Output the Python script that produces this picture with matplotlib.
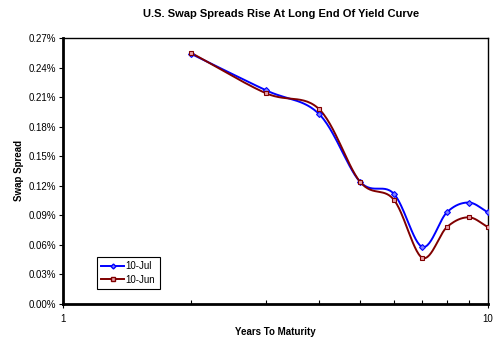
import numpy as np
import matplotlib
matplotlib.use("Agg")
import matplotlib.pyplot as plt
from matplotlib.ticker import FixedLocator, FuncFormatter, NullFormatter

plt.rcParams['font.family'] = ['Liberation Sans', 'DejaVu Sans']

# data (swap spread in %)
years = [2, 3, 4, 5, 6, 7, 8, 9, 10]
jul_10 = [0.254, 0.217, 0.193, 0.124, 0.112, 0.058, 0.093, 0.103, 0.093]
jun_10 = [0.255, 0.214, 0.198, 0.124, 0.106, 0.047, 0.078, 0.088, 0.078]


def smooth(x, y, n=30):
    # catmull-rom through the points, done in log-x space like excel smoothing
    lx = np.log10(np.asarray(x, float))
    y = np.asarray(y, float)
    px = np.concatenate([[2 * lx[0] - lx[1]], lx, [2 * lx[-1] - lx[-2]]])
    py = np.concatenate([[2 * y[0] - y[1]], y, [2 * y[-1] - y[-2]]])
    outx, outy = [], []
    t = np.linspace(0, 1, n)
    for i in range(1, len(px) - 2):
        for arr, out in ((px, outx), (py, outy)):
            p0, p1, p2, p3 = arr[i - 1], arr[i], arr[i + 1], arr[i + 2]
            out.extend(0.5 * (2 * p1 + (-p0 + p2) * t
                              + (2 * p0 - 5 * p1 + 4 * p2 - p3) * t ** 2
                              + (-p0 + 3 * p1 - 3 * p2 + p3) * t ** 3))
    return 10 ** np.array(outx), np.array(outy)


fig = plt.figure(figsize=(4.93, 3.41), dpi=100)
ax = fig.add_axes([0.1278, 0.1085, 0.8621, 0.7801])

sx, sy = smooth(years, jul_10)
ax.plot(sx, sy, color='#0000ff', lw=1.4, zorder=3)
ax.plot(years, jul_10, ls='none', marker='D', ms=3, mfc='#8080ff', mec='#0000ff', mew=0.8, zorder=4)
sx, sy = smooth(years, jun_10)
ax.plot(sx, sy, color='#800000', lw=1.4, zorder=3)
ax.plot(years, jun_10, ls='none', marker='s', ms=3.5, mfc='#e8a0a8', mec='#800000', mew=0.8, zorder=4)

# legend proxies
ax.plot([], [], color='#0000ff', lw=1.4, marker='D', ms=2.5, mfc='#8080ff', mec='#0000ff', label='10-Jul')
ax.plot([], [], color='#800000', lw=1.4, marker='s', ms=3, mfc='#e8a0a8', mec='#800000', label='10-Jun')

ax.set_xscale('log')
ax.set_xlim(1, 10)
ax.set_ylim(0, 0.27)
ax.yaxis.set_major_locator(FixedLocator(np.arange(0, 0.2701, 0.03)))
ax.yaxis.set_major_formatter(FuncFormatter(lambda v, p: f'{v:.2f}%'))
ax.xaxis.set_major_locator(FixedLocator([1, 10]))
ax.xaxis.set_major_formatter(FuncFormatter(lambda v, p: f'{v:g}'))
ax.xaxis.set_minor_locator(FixedLocator(range(2, 10)))
ax.xaxis.set_minor_formatter(NullFormatter())

ax.tick_params(axis='y', direction='out', length=3, width=0.8, labelsize=7, colors='black', pad=2)
ax.tick_params(axis='x', which='major', direction='out', length=3, width=0.8, labelsize=7, pad=4)
ax.tick_params(axis='x', which='minor', direction='in', length=3, width=0.8)

for side in ('left', 'bottom'):
    ax.spines[side].set_linewidth(2)
for side in ('top', 'right'):
    ax.spines[side].set_linewidth(1)

ax.set_xlabel('Years To Maturity', fontsize=7, fontweight='bold', labelpad=2)
ax.set_ylabel('Swap Spread', fontsize=7, fontweight='bold', labelpad=3)
fig.text(0.57, 0.958, 'U.S. Swap Spreads Rise At Long End Of Yield Curve',
         ha='center', va='center', fontsize=8, fontweight='bold')

leg = ax.legend(loc='lower left', bbox_to_anchor=(0.08, 0.056), borderaxespad=0,
                fontsize=7, handlelength=2.3, handletextpad=0.2, borderpad=0.45,
                labelspacing=0.35, fancybox=False, framealpha=1)
leg.get_frame().set_edgecolor('black')
leg.get_frame().set_linewidth(0.8)

fig.savefig('out.png', dpi=100)
